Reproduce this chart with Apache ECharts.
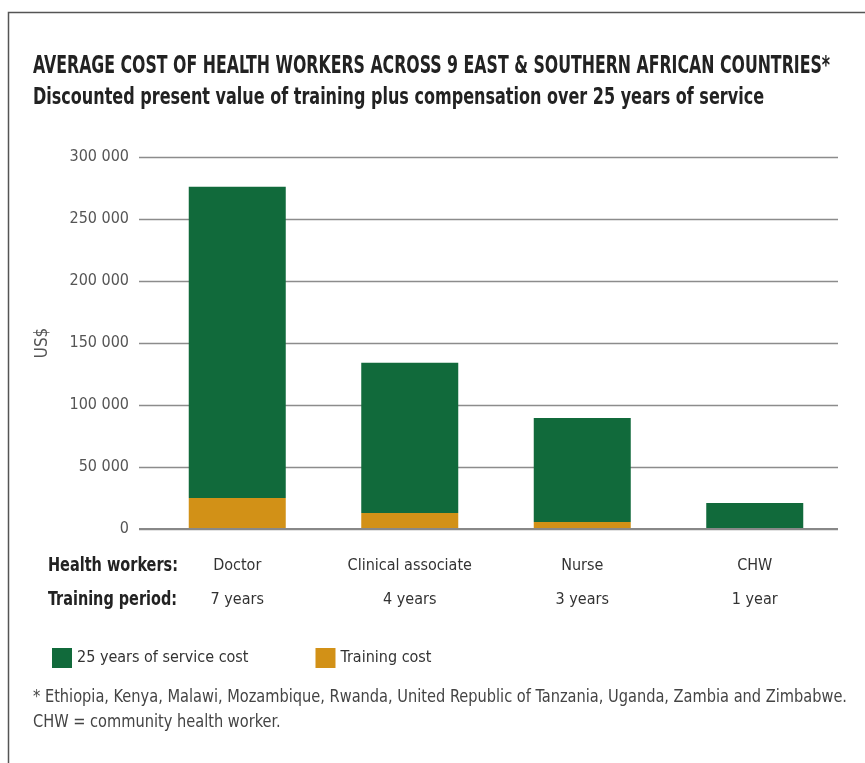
<!DOCTYPE html>
<html><head><meta charset="utf-8">
<script src="https://cdn.jsdelivr.net/npm/echarts@6/dist/echarts.min.js"></script>
<style>html,body{margin:0;padding:0;background:#fff}#c{width:865px;height:763px}</style>
</head><body><div id="c"></div>
<script>
const categories = ['Doctor', 'Clinical associate', 'Nurse', 'CHW'];
const trainingPeriods = ['7 years', '4 years', '3 years', '1 year'];
const trainingCost = [25000, 13000, 5600, 400];
const serviceCost = [251000, 121000, 83900, 20600];
const seriesNames = ['25 years of service cost', 'Training cost'];
const rowLabels = ['Health workers:', 'Training period:'];
const titleText = 'AVERAGE COST OF HEALTH WORKERS ACROSS 9 EAST & SOUTHERN AFRICAN COUNTRIES*';
const subtitleText = 'Discounted present value of training plus compensation over 25 years of service';
const footnotes = ['* Ethiopia, Kenya, Malawi, Mozambique, Rwanda, United Republic of Tanzania, Uganda, Zambia and Zimbabwe.', 'CHW = community health worker.'];

const FONT = '"DejaVu Sans Condensed","Liberation Sans Narrow",sans-serif';
const GREEN = '#116a3b', ORANGE = '#d29117';
const fmt = v => String(v).replace(/\B(?=(\d{3})+(?!\d))/g, ' ');

const ctx = document.createElement('canvas').getContext('2d');
function measure(text, font) { ctx.font = font; return ctx.measureText(text).width; }
function fitted(text, font, x, y, targetW, fill, scaleOverride) {
  const s = scaleOverride || targetW / measure(text, font);
  return { type: 'text', x: x, y: y, scaleX: s, scaleY: 1, z: 10,
    style: { text: text, font: font, fill: fill, x: 0, y: 0, align: 'left', verticalAlign: 'middle' } };
}
const titleFont = 'bold 24px ' + FONT;
const subFont = 'bold 23px ' + FONT;
const rowFont = 'bold 19px ' + FONT;
const noteFont = '18px ' + FONT;
const noteScale = 814 / measure(footnotes[0], noteFont);

const chart = echarts.init(document.getElementById('c'));
chart.setOption({
  animation: false,
  backgroundColor: '#fff',
  textStyle: { fontFamily: FONT },
  grid: [
    { left: 139, right: 27, top: 157, bottom: 234 },
    { left: 151, right: 24, top: 157, bottom: 234 }
  ],
  xAxis: [
    { gridIndex: 0, type: 'category', data: categories, show: false },
    { gridIndex: 1, type: 'category', data: categories.map((c, i) => c + '\n' + trainingPeriods[i]),
      axisLine: { show: false }, axisTick: { show: false },
      axisLabel: { interval: 0, margin: 20, fontFamily: FONT, fontSize: 16, color: '#333', lineHeight: 34 } }
  ],
  yAxis: [
    { gridIndex: 0, type: 'value', min: 0, max: 300000, interval: 50000,
      name: 'US$', nameLocation: 'middle', nameGap: 88, nameRotate: 90,
      nameTextStyle: { fontFamily: FONT, fontSize: 17, color: '#555' },
      axisLine: { show: false }, axisTick: { show: false },
      axisLabel: { margin: 10, fontFamily: FONT, fontSize: 16, color: '#555', formatter: v => fmt(v) },
      splitLine: { lineStyle: { color: '#8c8c8c', width: 1.3 } } },
    { gridIndex: 1, type: 'value', min: 0, max: 300000, interval: 50000, show: false,
      splitLine: { show: false } }
  ],
  legend: {
    left: 47, top: 643, itemWidth: 20, itemHeight: 20, itemGap: 67, icon: 'rect',
    textStyle: { fontFamily: FONT, fontSize: 16, color: '#333' },
    data: seriesNames
  },
  series: [
    { name: seriesNames[1], type: 'bar', stack: 's', xAxisIndex: 1, yAxisIndex: 1,
      barWidth: 97, data: trainingCost, itemStyle: { color: ORANGE } },
    { name: seriesNames[0], type: 'bar', stack: 's', xAxisIndex: 1, yAxisIndex: 1,
      barWidth: 97, data: serviceCost, itemStyle: { color: GREEN } },
    { type: 'line', xAxisIndex: 0, yAxisIndex: 0, data: [], silent: true,
      markLine: { symbol: 'none', silent: true, label: { show: false },
        lineStyle: { color: '#888', width: 2, type: 'solid' }, data: [{ yAxis: 0 }] } }
  ],
  graphic: [
    { type: 'rect', shape: { x: 8.5, y: 12.5, width: 900, height: 800 }, style: { fill: 'none', stroke: '#555', lineWidth: 1.5 }, z: 0 },
    fitted(titleText, titleFont, 33, 67, 797, '#222'),
    fitted(subtitleText, subFont, 33, 98, 731, '#222'),
    fitted(rowLabels[0], rowFont, 48, 566, 130, '#222'),
    fitted(rowLabels[1], rowFont, 48, 600, 129, '#222'),
    fitted(footnotes[0], noteFont, 33, 697, 0, '#444', noteScale),
    fitted(footnotes[1], noteFont, 33, 722, 0, '#444', noteScale)
  ]
});
</script></body></html>
